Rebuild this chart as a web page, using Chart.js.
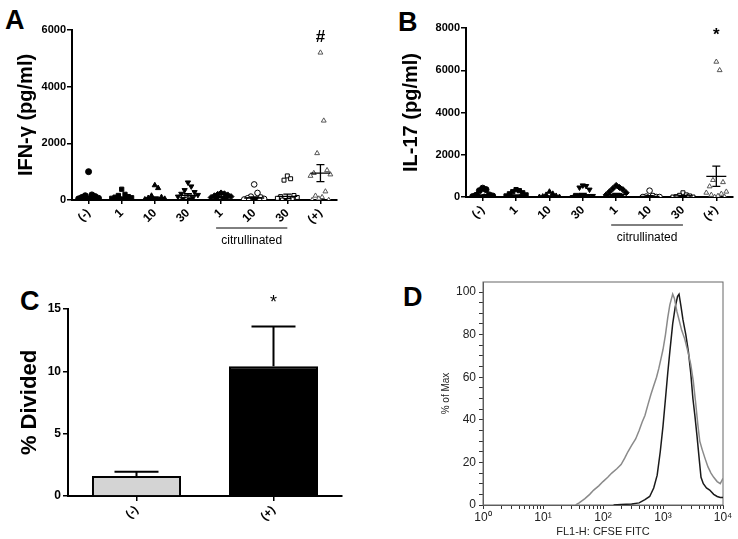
<!DOCTYPE html>
<html>
<head>
<meta charset="utf-8">
<script src="https://cdn.jsdelivr.net/npm/chart.js@4.4.1/dist/chart.umd.min.js"></script>
<style>
body { margin: 0; background: #fff; width: 738px; height: 539px; position: relative; overflow: hidden; font-family: Arial, "Liberation Sans", sans-serif; }
canvas { position: absolute; }
.letter { position: absolute; font-weight: bold; font-size: 27px; line-height: 1; color: #000; }
</style>
</head>
<body>
<div class="letter" style="left:5px;top:7px">A</div>
<div class="letter" style="left:398px;top:9px">B</div>
<div class="letter" style="left:20px;top:288px">C</div>
<div class="letter" style="left:403px;top:284px">D</div>
<canvas id="cA" width="369" height="270" style="left:0;top:0"></canvas>
<canvas id="cB" width="369" height="270" style="left:369px;top:0"></canvas>
<canvas id="cC" width="369" height="269" style="left:0;top:270px"></canvas>
<canvas id="cD" width="369" height="269" style="left:369px;top:270px"></canvas>
<script>
// categories for panels A and B
const groups = ['(-)', '1', '10', '30', '1', '10', '30', '(+)'];

// panel A, IFN-gamma (pg/ml), one list per group
const ifnNeg = [1000, 180, 150, 120, 90, 60, 40, 20, 10, 0, 0];
const ifn1 = [380, 200, 160, 120, 100, 80, 60, 40, 20, 0, 0];
const ifn10 = [520, 420, 150, 100, 70, 40, 20, 0, 0, 0];
const ifn30 = [620, 480, 350, 280, 220, 180, 120, 80, 40, 0];
const ifnC1 = [250, 220, 200, 180, 150, 120, 90, 60, 30, 0];
const ifnC10 = [550, 250, 120, 90, 60, 40, 20, 0, 0];
const ifnC30 = [850, 750, 700, 160, 120, 90, 60, 30, 0, 0];
const ifnPos = [5200, 2800, 1650, 1050, 950, 900, 850, 300, 150, 100, 50, 0, 0];
const ifnMean = [90, 80, 70, 160, 100, 70, 130, 950];
const ifnSem = [40, 30, 40, 60, 25, 40, 80, 300];

// panel B, IL-17 (pg/ml)
const ilNeg = [420, 350, 300, 100, 80, 50, 20, 0, 0, 0];
const il1 = [350, 300, 250, 200, 150, 100, 50, 0, 0];
const il10 = [250, 150, 100, 50, 20, 0, 0, 0];
const il30 = [550, 520, 450, 350, 100, 50, 0, 0, 0];
const ilC1 = [550, 450, 400, 350, 250, 200, 100, 50, 0, 0];
const ilC10 = [300, 50, 20, 0, 0, 0];
const ilC30 = [200, 100, 80, 50, 20, 0, 0, 0];
const ilPos = [6400, 6000, 800, 700, 500, 250, 200, 150, 100, 50, 0, 0];
const ilMean = [60, 60, 30, 110, 120, 30, 50, 980];
const ilSem = [40, 40, 20, 60, 50, 30, 20, 480];

// panel C, % divided
const divLabels = ['(-)', '(+)'];
const divValues = [1.6, 10.4];
const divSem = [0.35, 3.2];

// panel D, CFSE histograms [FL1-H, % of max]
const cfseBlack = [[150,0],[200,0.2],[300,0.5],[400,1],[500,2.5],[600,4],[700,8],[800,14],[900,25],[1000,37],[1100,50],[1200,62],[1300,72],[1450,85],[1600,93],[1750,98],[1850,99],[2000,93],[2150,87],[2400,80],[2650,72],[2900,62],[3150,50],[3400,42],[3700,32],[4000,22],[4300,13],[4700,10],[5300,8],[6000,7],[7000,5],[8000,4],[9000,3.5],[10000,3.5]];
const cfseGray = [[35,0],[40,1],[50,3],[60,5],[70,7],[85,9],[100,11],[120,13],[140,15],[170,17],[200,19],[230,22],[260,25],[300,28],[350,31],[400,35],[450,39],[500,42],[560,47],[630,52],[700,56],[780,60],[850,64],[930,69],[1000,73],[1100,80],[1200,88],[1300,94],[1450,99],[1550,97],[1700,91],[1850,87],[2050,82],[2300,78],[2600,72],[2900,66],[3200,58],[3500,48],[3800,38],[4100,30],[4500,26],[5000,22],[5600,18],[6300,15],[7000,13],[8000,11],[9000,10],[10000,12.5]];

const font = 'Arial, "Liberation Sans", sans-serif';
Chart.defaults.font.family = font;
Chart.defaults.color = '#000';
Chart.defaults.animation = false;
Chart.defaults.plugins.legend.display = false;
Chart.defaults.plugins.tooltip.enabled = false;

const shapes = ['circle', 'rect', 'triangle', 'triangle', 'rectRot', 'circle', 'rect', 'triangle'];
const filled = [true, true, true, true, true, false, false, false];
const spread = [0, 1, -1, 2, -2, 3, -3, 1.5, -1.5, 0.5, -0.5, 2.5, -2.5];

// mean line, sem bars and the little notes under/over the axis
const meanplugin = {
    id: 'meanbars',
    afterDatasetsDraw(chart, args, opts) {
        const ctx = chart.ctx;
        const x = chart.scales.x;
        const y = chart.scales.y;
        ctx.save();
        ctx.strokeStyle = '#000';
        ctx.lineWidth = 1.3;
        opts.means.forEach(function(m, i) {
            const cx = x.getPixelForValue(i);
            const my = y.getPixelForValue(m);
            const hi = y.getPixelForValue(m + opts.sems[i]);
            const lo = y.getPixelForValue(Math.max(0, m - opts.sems[i]));
            ctx.beginPath();
            ctx.moveTo(cx - 10, my); ctx.lineTo(cx + 10, my);
            ctx.moveTo(cx, hi); ctx.lineTo(cx, lo);
            ctx.moveTo(cx - 4, hi); ctx.lineTo(cx + 4, hi);
            ctx.moveTo(cx - 4, lo); ctx.lineTo(cx + 4, lo);
            ctx.stroke();
        });
        // citrullinated bracket
        const l = x.getPixelForValue(3.85);
        const r = x.getPixelForValue(6.0);
        ctx.lineWidth = 1;
        ctx.beginPath();
        ctx.moveTo(l, opts.lineY); ctx.lineTo(r, opts.lineY);
        ctx.stroke();
        ctx.fillStyle = '#000';
        ctx.font = '12px ' + font;
        ctx.textAlign = 'center';
        ctx.textBaseline = 'middle';
        ctx.fillText('citrullinated', (l + r) / 2, opts.lineY + 13);
        ctx.font = 'bold 17px ' + font;
        ctx.fillText(opts.mark, x.getPixelForValue(7), chart.chartArea.top + 7);
        ctx.restore();
    }
};

function scatterchart(id, lists, means, sems, ymax, title, mark, sizes) {
    const datasets = lists.map(function(vals, gi) {
        return {
            data: vals.map((v, j) => ({x: gi + spread[j % spread.length] * 0.1, y: v})),
            pointStyle: shapes[gi],
            pointRotation: gi === 3 ? 180 : 0,
            pointRadius: filled[gi] ? 3 : 2.8,
            pointBackgroundColor: filled[gi] ? '#000' : '#fff',
            pointBorderColor: gi === 7 ? '#555' : '#000',
            pointBorderWidth: 1,
            showLine: false
        };
    });
    return new Chart(document.getElementById(id), {
        type: 'scatter',
        data: { datasets: datasets },
        options: {
            responsive: false,
            layout: { padding: { top: sizes.top, right: sizes.right, left: 0, bottom: 0 } },
            scales: {
                x: {
                    type: 'linear', min: -0.5, max: 7.5,
                    afterBuildTicks: s => { s.ticks = groups.map((g, i) => ({value: i})); },
                    afterFit: s => { s.height = sizes.xh; },
                    border: { color: '#000', width: 2 },
                    grid: { drawOnChartArea: false, color: '#000', tickLength: 4, lineWidth: 1.5 },
                    ticks: {
                        autoSkip: false, minRotation: 45, maxRotation: 45, padding: 2,
                        font: { size: 12, weight: 'bold' },
                        callback: (v, i) => groups[i]
                    }
                },
                y: {
                    min: 0, max: ymax,
                    afterFit: s => { s.width = sizes.yw; },
                    border: { color: '#000', width: 2 },
                    grid: { drawOnChartArea: false, color: '#000', tickLength: 5, lineWidth: 1.5 },
                    ticks: { stepSize: 2000, padding: 1, font: { size: 11, weight: 'bold' }, callback: v => String(v) },
                    title: { display: true, text: title, font: { size: 20, weight: 'bold' }, padding: { top: sizes.tp, bottom: 0 } }
                }
            },
            plugins: { meanbars: { means: means, sems: sems, mark: mark, lineY: sizes.lineY } }
        },
        plugins: [meanplugin]
    });
}

scatterchart('cA', [ifnNeg, ifn1, ifn10, ifn30, ifnC1, ifnC10, ifnC30, ifnPos], ifnMean, ifnSem, 6000,
    'IFN-\u03b3 (pg/ml)', '#', { top: 30, right: 32, xh: 70, yw: 72, tp: 14, lineY: 228 });
scatterchart('cB', [ilNeg, il1, il10, il30, ilC1, ilC10, ilC30, ilPos], ilMean, ilSem, 8000,
    'IL-17 (pg/ml)', '*', { top: 28, right: 3, xh: 73, yw: 97, tp: 30, lineY: 225 });

// panel C
const errplugin = {
    id: 'errbars',
    afterDatasetsDraw(chart) {
        const ctx = chart.ctx;
        const x = chart.scales.x;
        const y = chart.scales.y;
        ctx.save();
        ctx.strokeStyle = '#000';
        ctx.lineWidth = 2;
        divValues.forEach(function(v, i) {
            const cx = x.getPixelForValue(i);
            const top = y.getPixelForValue(v + divSem[i]);
            ctx.beginPath();
            ctx.moveTo(cx, y.getPixelForValue(v)); ctx.lineTo(cx, top);
            ctx.moveTo(cx - 22, top); ctx.lineTo(cx + 22, top);
            ctx.stroke();
        });
        ctx.fillStyle = '#000';
        ctx.font = '18px ' + font;
        ctx.textAlign = 'center';
        ctx.textBaseline = 'middle';
        ctx.fillText('*', x.getPixelForValue(1), chart.chartArea.top - 6);
        ctx.restore();
    }
};

new Chart(document.getElementById('cC'), {
    type: 'bar',
    data: {
        labels: divLabels,
        datasets: [{
            data: divValues,
            backgroundColor: ['#d4d4d4', '#000'],
            borderColor: '#000',
            borderWidth: 2,
            barPercentage: 0.65,
            categoryPercentage: 1
        }]
    },
    options: {
        responsive: false,
        layout: { padding: { top: 39, right: 27, left: 0, bottom: 0 } },
        scales: {
            x: {
                afterFit: s => { s.height = 43; },
                border: { color: '#000', width: 2 },
                grid: { drawOnChartArea: false, color: '#000', tickLength: 5, lineWidth: 1.5, offset: false },
                ticks: { minRotation: 45, maxRotation: 45, padding: 2, font: { size: 12, weight: 'bold' } }
            },
            y: {
                min: 0, max: 15,
                afterFit: s => { s.width = 68; },
                border: { color: '#000', width: 2 },
                grid: { drawOnChartArea: false, color: '#000', tickLength: 5, lineWidth: 1.5 },
                ticks: { stepSize: 5, padding: 2, font: { size: 12, weight: 'bold' } },
                title: { display: true, text: '% Divided', font: { size: 22, weight: 'bold' }, padding: { top: 17, bottom: 0 } }
            }
        }
    },
    plugins: [errplugin]
});

// panel D
const sup = ['\u2070', '\u00b9', '\u00b2', '\u00b3', '\u2074'];
const boxplugin = {
    id: 'box',
    beforeDatasetsDraw(chart) {
        const a = chart.chartArea;
        const ctx = chart.ctx;
        ctx.save();
        ctx.strokeStyle = '#666';
        ctx.lineWidth = 1;
        ctx.strokeRect(a.left, a.top, a.right - a.left, a.bottom - a.top);
        ctx.restore();
    }
};

new Chart(document.getElementById('cD'), {
    type: 'line',
    data: {
        datasets: [
            { data: cfseGray.map(p => ({x: p[0], y: p[1]})), borderColor: '#8a8a8a', borderWidth: 1.5, pointRadius: 0, tension: 0 },
            { data: cfseBlack.map(p => ({x: p[0], y: p[1]})), borderColor: '#1a1a1a', borderWidth: 1.5, pointRadius: 0, tension: 0 }
        ]
    },
    options: {
        responsive: false,
        layout: { padding: { top: 12, right: 15, left: 0, bottom: 0 } },
        scales: {
            x: {
                type: 'logarithmic', min: 1, max: 10000,
                afterBuildTicks: s => {
                    const t = [];
                    for (let e = 0; e < 4; e++) {
                        for (let k = 1; k < 10; k++) t.push({value: k * Math.pow(10, e)});
                    }
                    t.push({value: 10000});
                    s.ticks = t;
                },
                afterFit: s => { s.height = 34; },
                border: { color: '#555', width: 1 },
                grid: { drawOnChartArea: false, color: '#333', tickLength: 4 },
                ticks: {
                    autoSkip: false, maxRotation: 0, padding: 1, color: '#222', font: { size: 12 },
                    callback: function(v) {
                        const e = Math.round(Math.log10(v));
                        return Math.abs(Math.log10(v) - e) < 1e-9 ? '10' + sup[e] : '';
                    }
                },
                title: { display: true, text: 'FL1-H: CFSE FITC', color: '#222', font: { size: 11 }, padding: { top: 0, bottom: 0 } }
            },
            y: {
                min: 0, max: 104.7,
                afterBuildTicks: s => {
                    const t = [];
                    for (let v = 0; v <= 100; v += 5) t.push({value: v});
                    s.ticks = t;
                },
                afterFit: s => { s.width = 114; },
                border: { color: '#555', width: 1 },
                grid: { drawOnChartArea: false, color: '#333', tickLength: 4 },
                ticks: { autoSkip: false, padding: 3, color: '#222', font: { size: 12 }, callback: v => (v % 20 === 0 ? v : '') },
                title: { display: true, text: '% of Max', color: '#222', font: { size: 10 }, padding: { top: 71, bottom: 0 } }
            }
        }
    },
    plugins: [boxplugin]
});
</script>
</body>
</html>
